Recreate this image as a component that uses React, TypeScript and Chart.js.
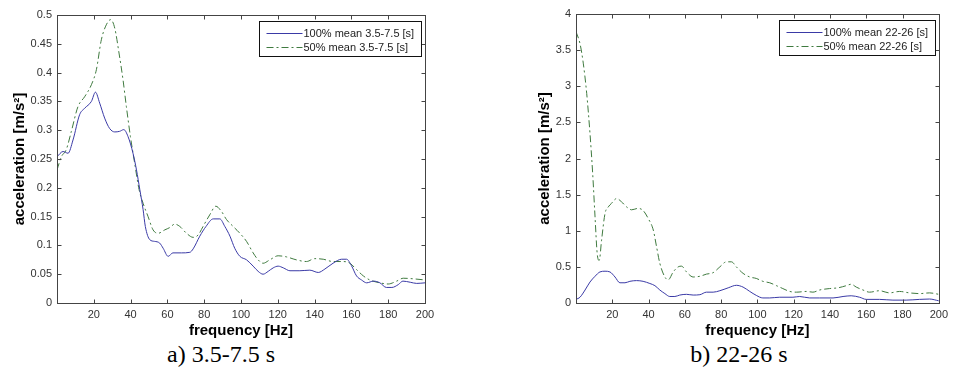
import React, { useEffect, useRef } from "react";
import { Chart, registerables } from "chart.js";
Chart.register(...registerables);

// ---- Data: panel a) 3.5-7.5 s ----
const FREQ_A_100 = [0,3.3,6,8.7,12.3,15,18.7,20.9,23.2,25.9,28.6,31.4,34,36.3,38.6,41.3,43.2,45,46.8,48,50.4,53,55.8,57.7,60.4,63,67.6,72.2,74,77.6,81,84.9,88.5,91.2,94,96.6,99.4,103,106.6,109.3,112,114.8,117.5,120.2,123,126.6,132,137.4,142,145.6,150,154.7,157.4,160,162.8,165.5,168.3,172,175.5,179,182,185.5,188,192,195.5,200];
const ACC_A_100 = [0.254,0.263,0.260,0.283,0.327,0.338,0.350,0.366,0.347,0.321,0.303,0.297,0.298,0.301,0.289,0.260,0.231,0.197,0.162,0.133,0.110,0.107,0.104,0.095,0.081,0.087,0.087,0.088,0.094,0.116,0.133,0.146,0.146,0.133,0.116,0.095,0.081,0.075,0.064,0.055,0.050,0.055,0.061,0.064,0.061,0.056,0.056,0.057,0.053,0.059,0.069,0.076,0.076,0.065,0.047,0.040,0.035,0.038,0.035,0.027,0.027,0.032,0.038,0.036,0.034,0.035];
const FREQ_A_50 = [0,2.4,5,7.8,11.4,15,18.7,21.4,24.1,26.8,29.2,31.4,33.7,35.9,37.7,39.9,42.2,44.6,46.8,49.5,52.2,55,58.6,61.3,64,66.7,70.4,74,76.7,79.4,83,86.3,89.4,92.1,95.7,99.4,103,106.6,109.3,112,115.7,120.2,124.8,130,135.6,140,144.7,150,155.6,159.2,162.8,166.5,170,175.5,180,184.6,188.2,193.6,200];
const ACC_A_50 = [0.231,0.254,0.266,0.298,0.341,0.358,0.379,0.405,0.457,0.483,0.492,0.477,0.434,0.387,0.341,0.289,0.243,0.197,0.173,0.150,0.127,0.121,0.127,0.131,0.137,0.133,0.121,0.114,0.118,0.133,0.153,0.168,0.159,0.145,0.133,0.121,0.107,0.087,0.075,0.069,0.075,0.082,0.080,0.075,0.072,0.077,0.076,0.072,0.072,0.069,0.058,0.047,0.040,0.035,0.033,0.038,0.043,0.042,0.040];

// ---- Data: panel b) 22-26 s ----
const FREQ_B_100 = [0,2.2,5,7.7,10.5,13.2,16,18.7,21.5,24.2,27,29.7,33.4,37,40.7,43.5,46.2,49,51.7,54.5,57.2,60.9,64.6,68.3,71.9,75.6,79.3,83.9,88.4,92.1,95.8,99.4,103,106.8,112.3,119.6,123.3,128.8,134.3,141.7,147.2,151.7,156.3,160,167.3,174.7,182,189.4,194.9,200];
const ACC_B_100 = [0.05,0.08,0.18,0.29,0.37,0.43,0.44,0.43,0.36,0.28,0.28,0.30,0.31,0.30,0.27,0.24,0.18,0.13,0.09,0.09,0.11,0.12,0.11,0.115,0.15,0.15,0.17,0.21,0.245,0.22,0.16,0.105,0.07,0.07,0.08,0.08,0.09,0.07,0.07,0.07,0.09,0.10,0.08,0.05,0.05,0.04,0.04,0.05,0.055,0.03];
const FREQ_B_50 = [0,2.2,4,5.9,7.7,9.2,10.5,11.7,12.8,14.1,16,17.8,19.6,22.4,25.1,27.9,30.6,34.3,37,39.8,42.6,44.4,46.2,49,50.8,53.6,56.3,58.2,60.9,64.6,68.3,71.9,75.6,79.3,82.9,85.7,88.4,92.1,95.8,99.4,103,106.8,110.5,114,117.8,121.5,127,130.6,134.3,139.8,144.4,149,151.7,154.5,158.2,161.8,167.3,172.8,178.3,183.9,189.4,194.9,200];
const ACC_B_50 = [3.755,3.59,3.32,2.90,2.35,1.79,1.19,0.68,0.59,0.87,1.24,1.33,1.38,1.446,1.40,1.33,1.29,1.31,1.28,1.17,1.01,0.78,0.55,0.36,0.32,0.43,0.50,0.51,0.43,0.36,0.37,0.40,0.42,0.50,0.57,0.57,0.50,0.41,0.36,0.34,0.30,0.28,0.24,0.20,0.16,0.15,0.16,0.15,0.18,0.20,0.21,0.24,0.26,0.22,0.18,0.15,0.17,0.14,0.16,0.14,0.13,0.14,0.12];

// ---- Ticks & labels ----
const X_TICKS = [20, 40, 60, 80, 100, 120, 140, 160, 180, 200];
const Y_TICKS_A = [0, 0.05, 0.1, 0.15, 0.2, 0.25, 0.3, 0.35, 0.4, 0.45, 0.5];
const Y_TICKS_B = [0, 0.5, 1, 1.5, 2, 2.5, 3, 3.5, 4];
const LEGEND_A = ["100% mean 3.5-7.5 [s]", "50% mean 3.5-7.5 [s]"];
const LEGEND_B = ["100% mean 22-26 [s]", "50% mean 22-26 [s]"];
const X_TITLE = "frequency [Hz]";
const Y_TITLE = "acceleration [m/s²]";
const CAPTION_A = "a) 3.5-7.5 s";
const CAPTION_B = "b) 22-26 s";

const BLUE = "#3a3aa6";
const GREEN = "#3f7a3f";
const DASHDOT = [7, 3, 2, 3];
const SANS = "'Liberation Sans', Arial, sans-serif";

const zip = (xs: number[], ys: number[]) => xs.map((x, i) => ({ x, y: ys[i] }));

const matlabPlugin = {
  id: "matlab",
  afterDatasetsDraw(chart: any, _args: any, opts: any) {
    const { ctx, chartArea: a, scales } = chart;
    const L = Math.round(a.left) + 0.5, R = Math.round(a.right) + 0.5;
    const T = Math.round(a.top) + 0.5, B = Math.round(a.bottom) + 0.5;
    ctx.save();
    ctx.strokeStyle = "#444";
    ctx.lineWidth = 1;
    ctx.setLineDash([]);
    ctx.strokeRect(L, T, R - L, B - T);
    const tl = 4;
    ctx.beginPath();
    scales.x.ticks.forEach((t: any) => {
      const px = Math.round(scales.x.getPixelForValue(t.value)) + 0.5;
      ctx.moveTo(px, B); ctx.lineTo(px, B - tl);
      ctx.moveTo(px, T); ctx.lineTo(px, T + tl);
    });
    scales.y.ticks.forEach((t: any) => {
      const py = Math.round(scales.y.getPixelForValue(t.value)) + 0.5;
      ctx.moveTo(L, py); ctx.lineTo(L + tl, py);
      ctx.moveTo(R, py); ctx.lineTo(R - tl, py);
    });
    ctx.stroke();

    // legend
    ctx.font = `11px ${SANS}`;
    const labels: string[] = opts.labels;
    const tw = Math.max(...labels.map((s) => ctx.measureText(s).width));
    const w = Math.round(44 + tw + 7);
    const h = 35;
    const bx = Math.round(a.right - opts.legendInsetX - w) + 0.5;
    const by = Math.round(a.top + opts.legendInsetY) + 0.5;
    ctx.fillStyle = "#fff";
    ctx.fillRect(bx, by, w, h);
    ctx.strokeStyle = "#111";
    ctx.strokeRect(bx, by, w, h);
    chart.data.datasets.forEach((ds: any, i: number) => {
      const yy = Math.round(by + 11 + i * 14.5) + 0.5;
      ctx.strokeStyle = ds.borderColor;
      ctx.setLineDash(ds.borderDash || []);
      ctx.beginPath();
      ctx.moveTo(bx + 7, yy);
      ctx.lineTo(bx + 43, yy);
      ctx.stroke();
      ctx.setLineDash([]);
      ctx.fillStyle = "#222";
      ctx.textBaseline = "middle";
      ctx.textAlign = "left";
      ctx.fillText(labels[i], bx + 44, yy + 0.5);
    });

    // axis titles
    ctx.fillStyle = "#000";
    ctx.font = `bold 15px ${SANS}`;
    ctx.textAlign = "center";
    ctx.textBaseline = "alphabetic";
    ctx.fillText(X_TITLE, (a.left + a.right) / 2, opts.xTitleBaseline);
    ctx.save();
    ctx.translate(opts.yTitleX, (a.top + a.bottom) / 2);
    ctx.rotate(-Math.PI / 2);
    ctx.textBaseline = "middle";
    ctx.fillText(Y_TITLE, 0, 0);
    ctx.restore();
    ctx.restore();
  },
};

type PanelSpec = {
  left: number;
  width: number;
  height: number;
  yAxisWidth: number;
  padRight: number;
  padTop: number;
  yTicks: number[];
  yMax: number;
  s100: { x: number; y: number }[];
  s50: { x: number; y: number }[];
  labels: string[];
  yTitleX: number;
};

function Panel({ spec }: { spec: PanelSpec }) {
  const ref = useRef<HTMLCanvasElement>(null);
  useEffect(() => {
    if (!ref.current) return;
    const chart = new Chart(ref.current, {
      type: "line",
      data: {
        datasets: [
          {
            label: spec.labels[0],
            data: spec.s100,
            borderColor: BLUE,
            borderWidth: 1,
            pointRadius: 0,
            cubicInterpolationMode: "monotone",
            fill: false,
          },
          {
            label: spec.labels[1],
            data: spec.s50,
            borderColor: GREEN,
            borderWidth: 1,
            borderDash: DASHDOT,
            pointRadius: 0,
            cubicInterpolationMode: "monotone",
            fill: false,
          },
        ],
      },
      options: {
        responsive: false,
        animation: false,
        events: [],
        layout: { padding: { left: 0, right: spec.padRight, top: spec.padTop, bottom: 0 } },
        plugins: {
          legend: { display: false },
          tooltip: { enabled: false },
          matlab: {
            labels: spec.labels,
            legendInsetX: 4,
            legendInsetY: 6,
            xTitleBaseline: 335,
            yTitleX: spec.yTitleX,
          },
        } as any,
        scales: {
          x: {
            type: "linear",
            min: 0,
            max: 200,
            grid: { display: false, drawTicks: false },
            border: { display: false },
            afterBuildTicks: (s: any) => {
              s.ticks = X_TICKS.map((v) => ({ value: v }));
            },
            afterFit: (s: any) => {
              s.height = spec.height - 303;
            },
            ticks: {
              padding: 5,
              color: "#333",
              font: { size: 11, family: SANS },
              maxRotation: 0,
              callback: (v: any) => String(v),
            },
          },
          y: {
            type: "linear",
            min: 0,
            max: spec.yMax,
            grid: { display: false, drawTicks: false },
            border: { display: false },
            afterBuildTicks: (s: any) => {
              s.ticks = spec.yTicks.map((v) => ({ value: v }));
            },
            afterFit: (s: any) => {
              s.width = spec.yAxisWidth;
            },
            ticks: {
              padding: 5,
              color: "#333",
              font: { size: 11, family: SANS },
              callback: (v: any) => String(+Number(v).toFixed(2)),
            },
          },
        },
      } as any,
      plugins: [matlabPlugin as any],
    });
    return () => chart.destroy();
  }, [spec]);
  return (
    <canvas
      ref={ref}
      width={spec.width}
      height={spec.height}
      style={{ position: "absolute", left: spec.left, top: 0, width: spec.width, height: spec.height }}
    />
  );
}

const SPEC_A: PanelSpec = {
  left: 0,
  width: 476,
  height: 340,
  yAxisWidth: 57,
  padRight: 51,
  padTop: 15,
  yTicks: Y_TICKS_A,
  yMax: 0.5,
  s100: zip(FREQ_A_100, ACC_A_100),
  s50: zip(FREQ_A_50, ACC_A_50),
  labels: LEGEND_A,
  yTitleX: 20,
};

const SPEC_B: PanelSpec = {
  left: 476,
  width: 477,
  height: 340,
  yAxisWidth: 100,
  padRight: 14,
  padTop: 14,
  yTicks: Y_TICKS_B,
  yMax: 4,
  s100: zip(FREQ_B_100, ACC_B_100),
  s50: zip(FREQ_B_50, ACC_B_50),
  labels: LEGEND_B,
  yTitleX: 69,
};

const captionStyle = (center: number): React.CSSProperties => ({
  position: "absolute",
  left: center - 120,
  width: 240,
  top: 342,
  textAlign: "center",
  fontFamily: "'Liberation Serif', 'Times New Roman', serif",
  fontSize: 24,
  lineHeight: "24px",
  color: "#000",
  whiteSpace: "nowrap",
});

export default function App() {
  return (
    <div style={{ position: "absolute", left: 0, top: 0, width: 953, height: 367, background: "#fff", overflow: "hidden" }}>
      <Panel spec={SPEC_A} />
      <Panel spec={SPEC_B} />
      <div style={captionStyle(221)}>{CAPTION_A}</div>
      <div style={captionStyle(739)}>{CAPTION_B}</div>
    </div>
  );
}
